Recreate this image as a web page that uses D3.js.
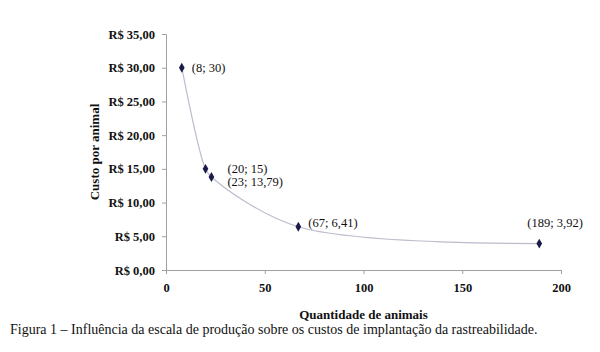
<!DOCTYPE html>
<html>
<head>
<meta charset="utf-8">
<script src="https://cdn.jsdelivr.net/npm/d3@7"></script>
<style>
  body { margin: 0; background: #fff; }
  svg text { font-family: "Liberation Serif", "Times New Roman", serif; fill: #111; }
</style>
</head>
<body>
<div id="chart"></div>
<script>
const animals = [8, 20, 23, 67, 189];
const costs = [30, 15, 13.79, 6.41, 3.92];
const pointLabels = ["(8; 30)", "(20; 15)", "(23; 13,79)", "(67; 6,41)", "(189; 3,92)"];
const xTicks = [0, 50, 100, 150, 200];
const yTicks = [0, 5, 10, 15, 20, 25, 30, 35];

function main(container) {
  const width = 600, height = 352;
  const margin = { left: 166, right: 39, top: 34, bottom: 82 };

  const svg = d3.select(container).append("svg")
    .attr("width", width).attr("height", height);

  const x = d3.scaleLinear().domain([0, 200]).range([margin.left, width - margin.right]);
  const y = d3.scaleLinear().domain([0, 35]).range([height - margin.bottom, margin.top]);

  const fmt = (v) => "R$ " + v.toFixed(2).replace(".", ",");

  // axes
  const yAxis = svg.append("g")
    .attr("transform", `translate(${margin.left},0)`)
    .call(d3.axisLeft(y).tickValues(yTicks).tickSize(4).tickPadding(7).tickFormat(fmt));
  const xAxis = svg.append("g")
    .attr("transform", `translate(0,${y(0)})`)
    .call(d3.axisBottom(x).tickValues(xTicks).tickSize(4).tickPadding(9));

  [yAxis, xAxis].forEach((g) => {
    g.select(".domain").attr("stroke", "#a0a0a0");
    g.selectAll(".tick line").attr("stroke", "#a0a0a0");
    g.selectAll("text")
      .attr("font-size", "12.5px")
      .attr("font-weight", "bold")
      .attr("fill", "#111");
  });

  // smoothed line
  const pts = animals.map((a, i) => [a, costs[i]]);
  const line = d3.line()
    .x((d) => x(d[0]))
    .y((d) => y(d[1]))
    .curve(d3.curveCatmullRom.alpha(0.5));
  svg.append("path")
    .datum(pts)
    .attr("d", line)
    .attr("fill", "none")
    .attr("stroke", "#bcbccc")
    .attr("stroke-width", 1.2);

  // diamond markers
  svg.selectAll("path.marker")
    .data(pts)
    .enter()
    .append("path")
    .attr("class", "marker")
    .attr("d", d3.symbol().type(d3.symbolDiamond).size(28))
    .attr("transform", (d) => `translate(${x(d[0])},${y(d[1])})`)
    .attr("fill", "#1c1c4a");

  // data labels
  const labelPos = [
    { dx: 10, dy: 4 },
    { dx: 22, dy: 4 },
    { dx: 16, dy: 9 },
    { dx: 10, dy: 0 },
    { dx: -12, dy: -17 },
  ];
  svg.selectAll("text.plabel")
    .data(pts)
    .enter()
    .append("text")
    .attr("class", "plabel")
    .attr("x", (d, i) => x(d[0]) + labelPos[i].dx)
    .attr("y", (d, i) => y(d[1]) + labelPos[i].dy)
    .attr("font-size", "12.5px")
    .text((d, i) => pointLabels[i]);

  // axis titles
  svg.append("text")
    .attr("transform", `translate(99,${(y(0) + y(35)) / 2}) rotate(-90)`)
    .attr("text-anchor", "middle")
    .attr("font-size", "13px")
    .attr("font-weight", "bold")
    .text("Custo por animal");

  svg.append("text")
    .attr("x", (x(0) + x(200)) / 2)
    .attr("y", 319)
    .attr("text-anchor", "middle")
    .attr("font-size", "13px")
    .attr("font-weight", "bold")
    .text("Quantidade de animais");

  // caption
  svg.append("text")
    .attr("x", 10)
    .attr("y", 334)
    .attr("font-size", "14px")
    .text("Figura 1 – Influência da escala de produção sobre os custos de implantação da rastreabilidade.");
}

main(document.getElementById("chart"));
</script>
</body>
</html>
